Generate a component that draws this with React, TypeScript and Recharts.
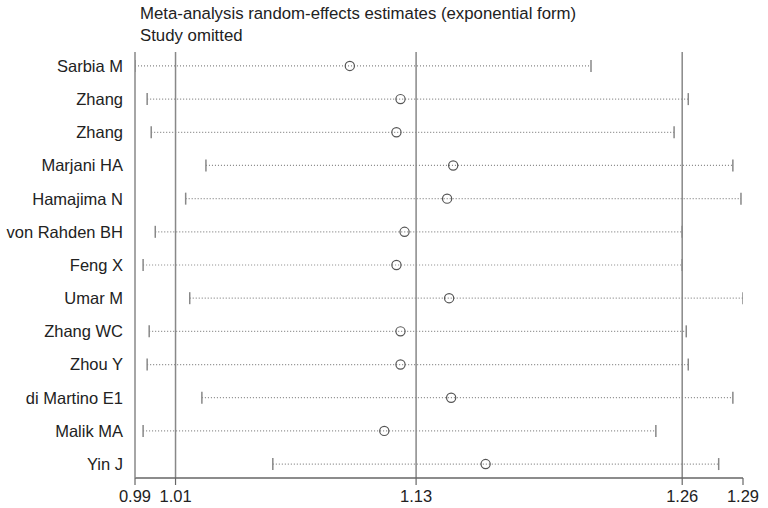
import React from 'react';
import { ScatterChart, Scatter, XAxis, YAxis, ReferenceLine } from 'recharts';

// studies omitted, top to bottom
const studies = [
  'Sarbia M', 'Zhang', 'Zhang', 'Marjani HA', 'Hamajima N', 'von Rahden BH', 'Feng X',
  'Umar M', 'Zhang WC', 'Zhou Y', 'di Martino E1', 'Malik MA', 'Yin J',
];
const estimates = [1.096, 1.121, 1.119, 1.147, 1.144, 1.123, 1.119, 1.145, 1.121, 1.121, 1.146, 1.113, 1.163];
const lowerCI = [0.990, 0.996, 0.998, 1.025, 1.015, 1.000, 0.994, 1.017, 0.997, 0.996, 1.023, 0.994, 1.058];
const upperCI = [1.215, 1.263, 1.256, 1.285, 1.289, 1.260, 1.260, 1.290, 1.262, 1.263, 1.285, 1.247, 1.278];

// full-model estimate and its CI
const overall = [1.01, 1.1287, 1.26];
const xTicks = [0.99, 1.01, 1.1287, 1.26, 1.29];

const rows = studies.map((_, i) => i + 1);
const estPts = rows.map((r, i) => ({ x: estimates[i], row: r }));
const lowPts = rows.map((r, i) => ({ x: lowerCI[i], row: r }));
const highPts = rows.map((r, i) => ({ x: upperCI[i], row: r }));

const font = '"Liberation Sans", Arial, sans-serif';

const Cap = (props: any) => (
  <line x1={props.cx} x2={props.cx} y1={props.cy - 6} y2={props.cy + 6} stroke="#888" strokeWidth={1.5} />
);
const Ring = (props: any) => (
  <circle cx={props.cx} cy={props.cy} r={4.6} fill="none" stroke="#555" strokeWidth={1.2} />
);

const App: React.FC = () => {
  return (
    <div style={{ position: 'absolute', left: 0, top: 0, width: 768, height: 508, background: '#fff', fontFamily: font }}>
      <div style={{ position: 'absolute', left: 140, top: 3, fontSize: 16.8, lineHeight: '22px', color: '#222' }}>
        Meta-analysis random-effects estimates (exponential form)
        <br />
        Study omitted
      </div>
      <ScatterChart width={768} height={508} margin={{ top: 52, right: 25, bottom: 0, left: 10 }}>
        <XAxis
          type="number"
          dataKey="x"
          domain={[0.99, 1.29]}
          allowDataOverflow
          ticks={xTicks}
          tickFormatter={(v: number) => v.toFixed(2)}
          height={30}
          tickSize={7}
          tickMargin={5}
          interval={0}
          axisLine={{ stroke: '#666', strokeWidth: 1.5 }}
          tickLine={{ stroke: '#666', strokeWidth: 1.2 }}
          tick={{ fontSize: 16.5, fill: '#222', fontFamily: font }}
        />
        <YAxis
          type="number"
          dataKey="row"
          reversed
          domain={[0.58, 13.42]}
          ticks={rows}
          interval={0}
          tickFormatter={(v: number) => studies[v - 1]}
          width={125}
          tickSize={0}
          tickMargin={12}
          tickLine={false}
          axisLine={{ stroke: '#888', strokeWidth: 1.5 }}
          tick={{ fontSize: 16.5, fill: '#222', fontFamily: font }}
        />
        {overall.map((v, i) => (
          <ReferenceLine key={'o' + i} x={v} stroke="#888" strokeWidth={1.5} ifOverflow="extendDomain" />
        ))}
        {rows.map((r, i) => (
          <ReferenceLine
            key={'ci' + i}
            segment={[{ x: lowerCI[i], y: r }, { x: upperCI[i], y: r }]}
            stroke="#888"
            strokeWidth={1.2}
            strokeDasharray="1 2"
          />
        ))}
        <Scatter data={lowPts} shape={Cap} isAnimationActive={false} />
        <Scatter data={highPts} shape={Cap} isAnimationActive={false} />
        <Scatter data={estPts} shape={Ring} isAnimationActive={false} />
      </ScatterChart>
    </div>
  );
};

export default App;
